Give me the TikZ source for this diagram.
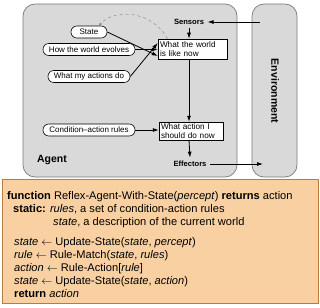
\documentclass[tikz,border=0pt]{standalone}
\usepackage{fontspec}
\setmainfont{Liberation Sans}
\usepackage{xcolor}
\usetikzlibrary{arrows.meta, positioning}
\definecolor{agentgray}{HTML}{D9D9D9}
\definecolor{framegray}{HTML}{7A7A7A}
\definecolor{peach}{HTML}{F9D0A2}
\definecolor{peachline}{HTML}{B67C44}

\begin{document}
\begin{tikzpicture}[x=1pt,y=-1pt]
\tikzset{oval/.style={draw,fill=white,line width=0.6pt,rounded corners=5.8pt,
           minimum height=12pt,inner sep=1pt,font=\fontsize{8}{9}\selectfont},
         stbox/.style={draw,fill=white,line width=0.5pt,align=left,inner sep=1.5pt,
           font=\fontsize{8.2}{8.4}\selectfont},
         label/.style={font=\bfseries\fontsize{7.6}{8}\selectfont},
         flow/.style={-{Latex[length=6pt,width=4pt]},line width=0.8pt},
         codeline/.style={anchor=base west,inner sep=0pt,font=\fontsize{11.1}{12}\selectfont}}
\useasboundingbox (0,0) rectangle (320,307);
% Agent and environment
\draw[fill=agentgray,draw=framegray,line width=0.7pt,rounded corners=12pt] (23,4) rectangle (237,177);
\draw[fill=agentgray,draw=framegray,line width=0.7pt,rounded corners=12pt] (252,4) rectangle (297,177);
\node[rotate=-90,font=\bfseries\fontsize{10.5}{12}\selectfont] (env) at (275,91) {Environment};
\node[font=\bfseries\fontsize{10.5}{12}\selectfont] (agent) at (52,160) {Agent};
% Sensors and effectors
\node[label] (sens) at (189,22) {Sensors};
\node[label] (eff) at (190,164) {Effectors};
\coordinate (envin) at (260,22);
\coordinate (envout) at (263,164);
% Inner boxes
\node[stbox,minimum width=69pt,minimum height=20pt,text width=65pt] (world) at (192.5,49) {What the world\\is like now};
\node[stbox,minimum width=64pt,minimum height=18pt,text width=60pt] (act) at (191,131) {What action I\\should do now};
% Ovals on the left
\node[oval,minimum width=36pt] (state) at (89,32) {State};
\node[oval,minimum width=92pt] (evolve) at (89,49.5) {How the world evolves};
\node[oval,minimum width=82pt] (doact) at (89,76.5) {What my actions do};
\node[oval,minimum width=92pt] (rules) at (89,130) {Condition--action rules};
% Connectors
\draw[flow] (envin) -- (sens.east);
\draw[flow] (sens.south) -- (sens.south |- world.north);
\draw[flow] (state.east) -- ([yshift=-7pt]world.west);
\draw[flow] (evolve.east) -- (world.west |- evolve.east);
\draw[flow] (doact.east) -- ([yshift=6pt]world.west);
\draw[flow] (sens.south |- world.south) -- (sens.south |- act.north);
\draw[flow] (rules.east) -- (act.west |- rules.east);
\draw[flow] (sens.south |- act.south) -- (eff.north);
\draw[flow] (eff.east) -- (envout);
\draw[dashed,line width=0.4pt,draw=gray,-{Latex[length=3pt,width=2.5pt]}]
  ([xshift=-25pt]world.north) .. controls (150,8) and (112,10) .. ([xshift=10pt]state.north);
% Program box
\draw[fill=peach,draw=peachline,line width=0.7pt] (2,179) rectangle (318,303);
\node[codeline] (l1) at (7,199) {\textbf{function} Reflex-Agent-With-State(\textit{percept}) \textbf{returns} action};
\node[codeline] (l2) at (13,212) {\textbf{static:} \textit{rules}, a set of condition-action rules};
\node[codeline] (l3) at (53,225) {\textit{state}, a description of the current world};
\node[codeline] (l4) at (14,245) {\textit{state} $\leftarrow$ Update-State(\textit{state}, \textit{percept})};
\node[codeline] (l5) at (14,258) {\textit{rule} $\leftarrow$ Rule-Match(\textit{state}, \textit{rules})};
\node[codeline] (l6) at (14,271) {\textit{action} $\leftarrow$ Rule-Action[\textit{rule}]};
\node[codeline] (l7) at (14,284) {\textit{state} $\leftarrow$ Update-State(\textit{state}, \textit{action})};
\node[codeline] (l8) at (14,297) {\textbf{return} \textit{action}};
\end{tikzpicture}
\end{document}
